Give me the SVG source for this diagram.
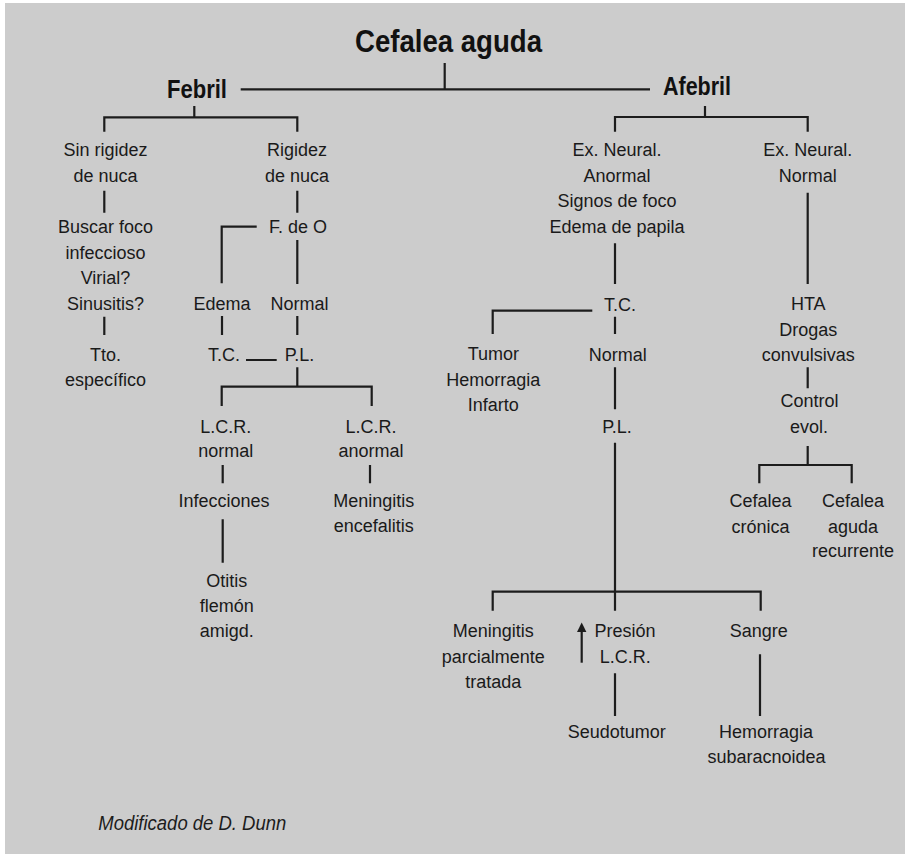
<svg xmlns="http://www.w3.org/2000/svg" width="905" height="854" viewBox="0 0 905 854">
<defs>
<style>
.t{font-family:"Liberation Sans",Arial,sans-serif;font-size:18px;fill:#1a1a1a;text-anchor:middle}
.b{font-family:"Liberation Sans",Arial,sans-serif;font-weight:bold;fill:#111}
.c{stroke:#1c1c1c;stroke-width:2.2;fill:none}
.ah{fill:#1c1c1c;stroke:none}
</style>
</defs>
<rect width="905" height="854" fill="#ffffff"/>
<rect x="5" y="3" width="900" height="851" fill="#cccccc"/>

<g id="connectors" class="c">
<path d="M444.7,63 V89.3 M240.7,89.3 H650"/>
<path d="M194.3,106 V117.3 M104.3,131.7 V117.3 H297.3 V131.7"/>
<path d="M705,106 V117 M615,131.7 V117 H807.7 V131.7"/>
<path d="M104.3,190.7 V212.7 M104.3,316.7 V335"/>
<path d="M297.3,190.7 V212.7 M256.7,226.7 H221.7 V283.3 M297.3,240 V284"/>
<path d="M222,316 V335 M297.3,316 V335 M246,360 H276.7"/>
<path d="M297.3,367.3 V386.7 M221.7,406 V386.7 H371.7 V406"/>
<path d="M222.7,465 V483.3 M222.7,519.3 V562.7 M370,465 V483.3"/>
<path d="M615,243.3 V284 M592.3,310.7 H492.7 V334 M615,316.7 V334 M615,367.3 V409.3 M615,442.7 V610.7"/>
<path d="M492.7,610.7 V591.7 H760.7 V610.7"/>
<path d="M615,673.3 V716 M760,654.3 V716"/>
<path d="M581.7,662.7 V630"/>
<polygon class="ah" points="581.7,622.5 577,632 586.4,632"/>
<path d="M807.7,192.7 V284 M807.7,367.3 V388.3 M807.7,446 V465 M759.3,483.3 V465 H851.7 V483.3"/>
</g>

<g id="n-title"><text class="b" x="355" y="52" font-size="32" textLength="187" lengthAdjust="spacingAndGlyphs">Cefalea aguda</text></g>
<g id="n-febril"><text class="b" x="167" y="98" font-size="26" textLength="60" lengthAdjust="spacingAndGlyphs">Febril</text></g>
<g id="n-afebril"><text class="b" x="663" y="95" font-size="26" textLength="68" lengthAdjust="spacingAndGlyphs">Afebril</text></g>

<g id="n-sinrigidez"><text class="t"><tspan x="105.5" y="156">Sin rigidez</tspan><tspan x="105.5" y="182">de nuca</tspan></text></g>
<g id="n-buscar"><text class="t"><tspan x="105.5" y="233.3">Buscar foco</tspan><tspan x="105.5" y="258.5">infeccioso</tspan><tspan x="105.5" y="284">Virial?</tspan><tspan x="105.5" y="310">Sinusitis?</tspan></text></g>
<g id="n-tto"><text class="t"><tspan x="105.5" y="360.7">Tto.</tspan><tspan x="105.5" y="385.7">específico</tspan></text></g>

<g id="n-rigidez"><text class="t"><tspan x="297" y="156">Rigidez</tspan><tspan x="297" y="182">de nuca</tspan></text></g>
<g id="n-fdeo"><text class="t" x="298" y="233.3">F. de O</text></g>
<g id="n-edema"><text class="t" x="222" y="310">Edema</text></g>
<g id="n-normal1"><text class="t" x="299.5" y="310">Normal</text></g>
<g id="n-tc1"><text class="t" x="224" y="360.7">T.C.</text></g>
<g id="n-pl1"><text class="t" x="299.5" y="360.7">P.L.</text></g>
<g id="n-lcrnormal"><text class="t"><tspan x="225.8" y="433.3">L.C.R.</tspan><tspan x="225.8" y="457.3">normal</tspan></text></g>
<g id="n-infecciones"><text class="t" x="224" y="506.7">Infecciones</text></g>
<g id="n-otitis"><text class="t"><tspan x="226.7" y="586.7">Otitis</tspan><tspan x="226.7" y="612">flemón</tspan><tspan x="226.7" y="636.7">amigd.</tspan></text></g>
<g id="n-lcranormal"><text class="t"><tspan x="371" y="433.3">L.C.R.</tspan><tspan x="371" y="457.3">anormal</tspan></text></g>
<g id="n-meningitis1"><text class="t"><tspan x="373.8" y="506.7">Meningitis</tspan><tspan x="373.8" y="531.7">encefalitis</tspan></text></g>

<g id="n-exanormal"><text class="t"><tspan x="617" y="156">Ex. Neural.</tspan><tspan x="617" y="182">Anormal</tspan><tspan x="617" y="207.3">Signos de foco</tspan><tspan x="617" y="232.7">Edema de papila</tspan></text></g>
<g id="n-tc2"><text class="t" x="620" y="310.5">T.C.</text></g>
<g id="n-tumor"><text class="t"><tspan x="493.3" y="360">Tumor</tspan><tspan x="493.3" y="385.7">Hemorragia</tspan><tspan x="493.3" y="410.7">Infarto</tspan></text></g>
<g id="n-normal2"><text class="t" x="617.7" y="360.5">Normal</text></g>
<g id="n-pl2"><text class="t" x="617" y="433.3">P.L.</text></g>
<g id="n-meningitis2"><text class="t"><tspan x="493.3" y="637.3">Meningitis</tspan><tspan x="493.3" y="663.3">parcialmente</tspan><tspan x="493.3" y="688.3">tratada</tspan></text></g>
<g id="n-presion"><text class="t"><tspan x="625" y="637.3">Presión</tspan><tspan x="625.3" y="663.3">L.C.R.</tspan></text></g>
<g id="n-seudotumor"><text class="t" x="616.7" y="738.3">Seudotumor</text></g>
<g id="n-sangre"><text class="t" x="758.8" y="637.3">Sangre</text></g>
<g id="n-hemorragia"><text class="t"><tspan x="766" y="738.3">Hemorragia</tspan><tspan x="766.5" y="762.7">subaracnoidea</tspan></text></g>

<g id="n-exnormal"><text class="t"><tspan x="807.7" y="156">Ex. Neural.</tspan><tspan x="807.7" y="182">Normal</tspan></text></g>
<g id="n-hta"><text class="t"><tspan x="808.3" y="310">HTA</tspan><tspan x="808.3" y="336">Drogas</tspan><tspan x="808.3" y="360.7">convulsivas</tspan></text></g>
<g id="n-control"><text class="t"><tspan x="809.5" y="407.3">Control</tspan><tspan x="809" y="432.7">evol.</tspan></text></g>
<g id="n-cronica"><text class="t"><tspan x="760.5" y="507.3">Cefalea</tspan><tspan x="760.5" y="532.7">crónica</tspan></text></g>
<g id="n-recurrente"><text class="t"><tspan x="853" y="507.3">Cefalea</tspan><tspan x="853" y="532.7">aguda</tspan><tspan x="853" y="557.3">recurrente</tspan></text></g>

<g id="caption"><text x="98.3" y="830" font-family="'Liberation Sans',Arial,sans-serif" font-style="italic" font-size="20" fill="#1c1c1c" textLength="188" lengthAdjust="spacingAndGlyphs">Modificado de D. Dunn</text></g>
</svg>
